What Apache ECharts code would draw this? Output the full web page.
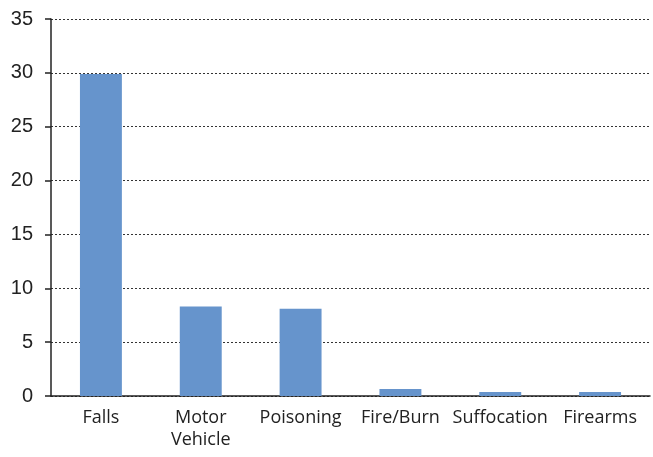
<!DOCTYPE html>
<html><head><meta charset="utf-8">
<script src="https://cdn.jsdelivr.net/npm/echarts@6/dist/echarts.min.js"></script>
<style>html,body{margin:0;padding:0;background:#fff}#c{width:653px;height:457px}</style>
</head><body><div id="c"></div>
<script>
const categories = ["Falls", "Motor\nVehicle", "Poisoning", "Fire/Burn", "Suffocation", "Firearms"];
const values = [29.9, 8.3, 8.1, 0.65, 0.37, 0.37];
const yTicks = {min: 0, max: 35, interval: 5};

const chart = echarts.init(document.getElementById('c'), null, {renderer: 'canvas'});
chart.setOption({
  animation: false,
  grid: {left: 51, right: 3, top: 19, bottom: 61, containLabel: false},
  xAxis: {
    type: 'category', data: categories,
    axisLine: {lineStyle: {color: '#222', width: 1.5}},
    axisTick: {show: false},
    axisLabel: {interval: 0, color: '#222', fontFamily: 'Open Sans', fontSize: 18, margin: 11, lineHeight: 22}
  },
  yAxis: {
    type: 'value', min: yTicks.min, max: yTicks.max, interval: yTicks.interval,
    axisLine: {show: true, lineStyle: {color: '#222', width: 1.5}},
    axisTick: {show: true, length: 6, lineStyle: {color: '#222', width: 1.5}},
    axisLabel: {color: '#222', fontFamily: 'Liberation Sans', fontSize: 20, margin: 18},
    splitLine: {show: true, lineStyle: {color: '#333', type: [2, 2], width: 1}}
  },
  series: [{
    type: 'bar', data: values, barWidth: '42%',
    itemStyle: {color: '#6694cc'}
  }]
});
</script></body></html>
